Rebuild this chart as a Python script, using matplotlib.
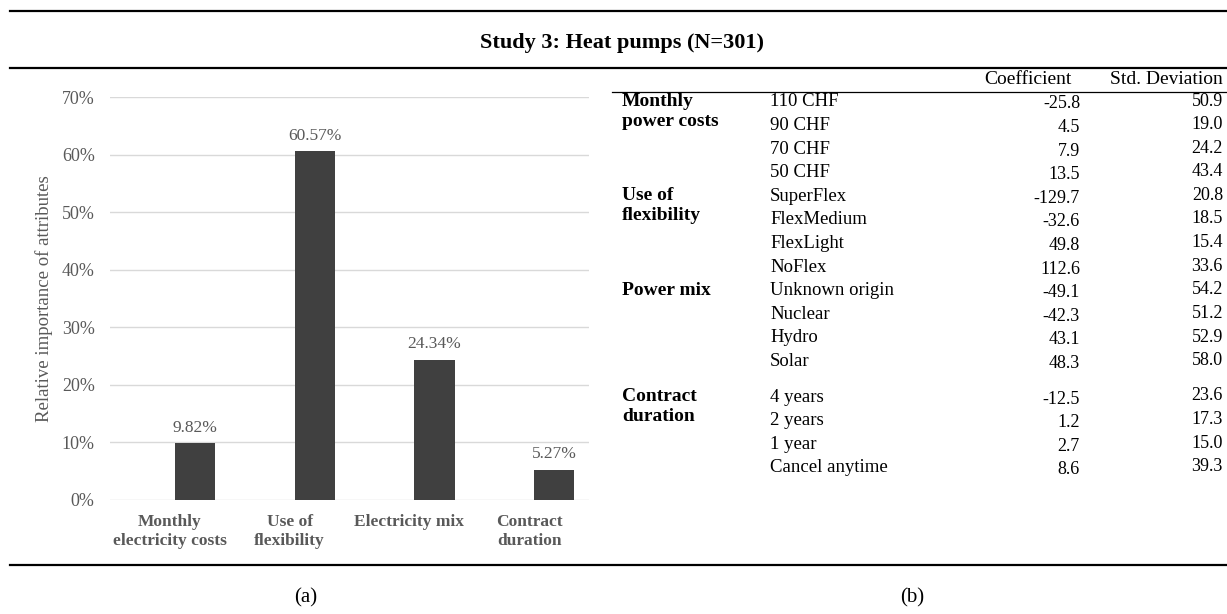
import matplotlib.pyplot as plt
import numpy as np

plt.rcParams['font.family'] = ['Liberation Serif', 'DejaVu Serif']

W, H = 1227, 614

# relative importance of attributes (%)
attributes = ['Monthly\nelectricity costs', 'Use of\nflexibility', 'Electricity mix', 'Contract\nduration']
importance = [9.82, 60.57, 24.34, 5.27]
yticks = [0, 10, 20, 30, 40, 50, 60, 70]

# coefficient table
groups = ['Monthly\npower costs', 'Use of\nflexibility', 'Power mix', 'Contract\nduration']
levels = [
    ['110 CHF', '90 CHF', '70 CHF', '50 CHF'],
    ['SuperFlex', 'FlexMedium', 'FlexLight', 'NoFlex'],
    ['Unknown origin', 'Nuclear', 'Hydro', 'Solar'],
    ['4 years', '2 years', '1 year', 'Cancel anytime'],
]
coefficients = [
    [-25.8, 4.5, 7.9, 13.5],
    [-129.7, -32.6, 49.8, 112.6],
    [-49.1, -42.3, 43.1, 48.3],
    [-12.5, 1.2, 2.7, 8.6],
]
std_devs = [
    [50.9, 19.0, 24.2, 43.4],
    [20.8, 18.5, 15.4, 33.6],
    [54.2, 51.2, 52.9, 58.0],
    [23.6, 17.3, 15.0, 39.3],
]

fig = plt.figure(figsize=(W / 100, H / 100), dpi=100)


def fx(px):
    return px / W


def fy(py):
    return 1 - py / H


def hline(y, x0, x1, lw):
    fig.add_artist(plt.Line2D([fx(x0), fx(x1)], [fy(y), fy(y)], color='black', lw=lw,
                              transform=fig.transFigure))


# rules
hline(11, 10, W, 1.6)
hline(68, 10, W, 1.6)
hline(565, 10, W, 1.6)
hline(92, 612, W, 0.9)

fig.text(fx(622), fy(43), 'Study 3: Heat pumps (N=301)', ha='center', va='center',
         fontsize=16, fontweight='bold')

# (a) bar chart
grey = '#595959'
ax = fig.add_axes([fx(110), fy(500), fx(589) - fx(110), fy(97) - fy(500)])
x = np.arange(len(attributes))
offset = 0.21
ax.bar(x + offset, importance, width=0.335, color='#404040', zorder=3)
for xi, v in zip(x, importance):
    ax.text(xi + offset, v + 1.3, f'{v:.2f}%', ha='center', va='bottom', fontsize=12.5, color=grey)
ax.set_xlim(-0.5, len(attributes) - 0.5)
ax.set_ylim(0, 70)
ax.set_yticks(yticks)
ax.set_yticklabels([f'{t}%' for t in yticks], fontsize=13, color=grey)
ax.set_xticks(x)
ax.set_xticklabels(attributes, fontsize=12.5, fontweight='bold', color=grey, linespacing=1.25)
ax.tick_params(axis='x', length=0, pad=10)
ax.tick_params(axis='y', length=0, pad=11)
ax.grid(axis='y', color='#d9d9d9', lw=1, zorder=0)
for s in ax.spines.values():
    s.set_visible(False)
ax.set_ylabel('Relative importance of attributes', fontsize=13.5, color=grey, labelpad=6)

fig.text(fx(306), fy(598), '(a)', ha='center', va='center', fontsize=15)
fig.text(fx(912), fy(598), '(b)', ha='center', va='center', fontsize=15)

# (b) coefficient table
fig.text(fx(1072), fy(79), 'Coefficient', ha='right', va='center', fontsize=14)
fig.text(fx(1223), fy(79), 'Std. Deviation', ha='right', va='center', fontsize=14)

row_h = 23.6
group_top = [102, 196.4, 290.8, 397]
for g, name in enumerate(groups):
    y0 = group_top[g]
    fig.text(fx(622), fy(y0 - 9), name, ha='left', va='top', fontsize=14,
             fontweight='bold', linespacing=1.2)
    for i, lev in enumerate(levels[g]):
        y = y0 + i * row_h
        fig.text(fx(770), fy(y), lev, ha='left', va='center', fontsize=13.5)
        fig.text(fx(1080), fy(y + 2), f'{coefficients[g][i]:.1f}', ha='right', va='center', fontsize=13)
        fig.text(fx(1223), fy(y - 1), f'{std_devs[g][i]:.1f}', ha='right', va='center', fontsize=13)

fig.savefig('out.png', dpi=100)
